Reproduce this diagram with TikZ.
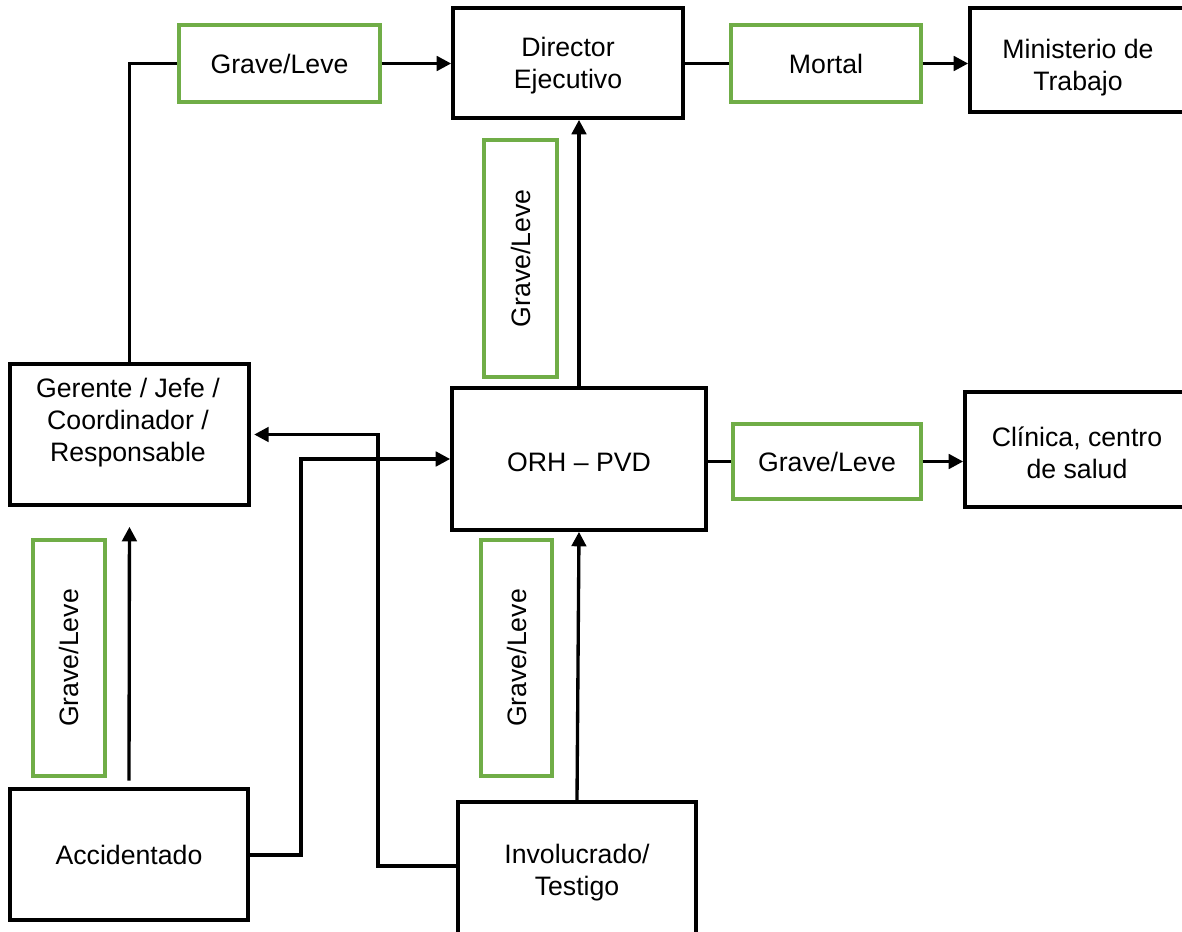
\documentclass[tikz,border=0pt]{standalone}
\usepackage{fontspec}
\setmainfont{Liberation Sans}
\usetikzlibrary{arrows.meta}

\definecolor{boxgreen}{RGB}{112,173,71}

\begin{document}
\begin{tikzpicture}[x=0.45pt, y=-0.45pt,
		every node/.style={font=\fontsize{12}{14.4}\selectfont, align=center, inner sep=0pt},
		blackbox/.style={draw=black, line width=1.65pt},
		greenbox/.style={draw=boxgreen, line width=1.5pt},
		link/.style={line width=1.5pt},
		arr/.style={link, -{Triangle[length=6.5pt, width=6.5pt]}}]
		\useasboundingbox (0,0) rectangle (1182,932);

		% Top row
		\node[greenbox, minimum width=201*0.45pt, minimum height=77*0.45pt] (topGL) at (279.5,63.5) {Grave/Leve};
		\node[blackbox, minimum width=230*0.45pt, minimum height=110*0.45pt] (director) at (568,63) {};
		\node (directorText) at (568,66) {Director\\Ejecutivo};
		\node[greenbox, minimum width=190*0.45pt, minimum height=77*0.45pt] (mortal) at (826,63.5) {Mortal};
		\node[blackbox, minimum width=222*0.45pt, minimum height=104*0.45pt] (ministerio) at (1081,60) {};
		\node (ministerioText) at (1078,68) {Ministerio de\\Trabajo};

		% Middle row
		\node[blackbox, minimum width=239*0.45pt, minimum height=141*0.45pt] (gerente) at (129.5,434.5) {};
		\node (gerenteText) at (128,423) {Gerente / Jefe /\\Coordinador /\\Responsable};
		\node[blackbox, minimum width=254*0.45pt, minimum height=142*0.45pt] (orh) at (579,459) {};
		\node (orhText) at (579,462) {ORH -- PVD};
		\node[greenbox, minimum width=188*0.45pt, minimum height=75*0.45pt] (rightGL) at (827,461.5) {Grave/Leve};
		\node[blackbox, minimum width=227*0.45pt, minimum height=115*0.45pt] (clinica) at (1078.5,449.5) {};
		\node (clinicaText) at (1077,453) {Clínica, centro\\de salud};

		% Vertical labels
		\node[greenbox, rotate=90, minimum width=237*0.45pt, minimum height=73*0.45pt] (upperGL) at (520.5,258.5) {Grave/Leve};
		\node[greenbox, rotate=90, minimum width=236*0.45pt, minimum height=72*0.45pt] (leftGL) at (69,658) {Grave/Leve};
		\node[greenbox, rotate=90, minimum width=236*0.45pt, minimum height=71*0.45pt] (lowerGL) at (516.5,658) {Grave/Leve};

		% Bottom row
		\node[blackbox, minimum width=238*0.45pt, minimum height=131*0.45pt] (accidentado) at (129,854.5) {Accidentado};
		\node[blackbox, minimum width=238*0.45pt, minimum height=142*0.45pt] (involucrado) at (577,873) {Involucrado/\\Testigo};

		% Connectors
		\draw[link] (gerente.north) |- (topGL.west);
		\draw[arr] (topGL.east) -- (director.west |- topGL.east);
		\draw[link] (director.east |- mortal.west) -- (mortal.west);
		\draw[arr] (mortal.east) -- (mortal.east -| ministerio.west);
		\draw[arr] (orh.north) -- (orh.north |- director.south);
		\draw[link] (orh.east |- rightGL.west) -- (rightGL.west);
		\draw[arr] (rightGL.east) -- (rightGL.east -| clinica.west);
		\draw[arr, shorten <=3pt, shorten >=9pt] (accidentado.north) -- (gerente.south);
		\draw[arr] (involucrado.north) -- (orh.south);

		\coordinate (accTurn) at (301,855);
		\draw[arr] (accidentado.east |- accTurn) -- (accTurn) |- (orh.west);
		\coordinate (invTurn) at (378,866);
		\draw[arr] (invTurn -| involucrado.west) -- (invTurn) |- ([xshift=1.5pt]gerente.east);

\end{tikzpicture}
\end{document}
